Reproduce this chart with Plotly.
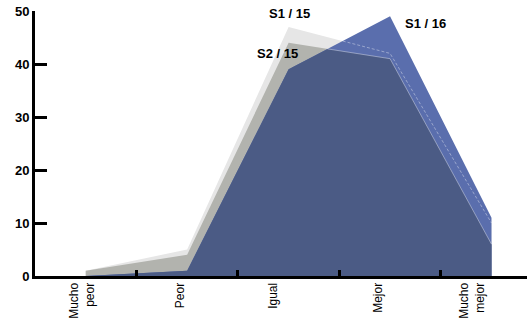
import plotly.graph_objects as go

categories = ["Mucho<br>peor", "Peor", "Igual", "Mejor", "Mucho<br>mejor"]
s1_15 = [1, 5, 47, 42, 10]
s2_15 = [1, 4, 44, 41, 6]
s1_16 = [0, 1, 39, 49, 11]
y_ticks = [0, 10, 20, 30, 40, 50]

x_idx = list(range(len(categories)))


def merge(a, b):
    """Breakpoints of two piecewise-linear series incl. crossing points."""
    xs, ya, yb = [], [], []
    for i in range(len(a)):
        xs.append(float(i)); ya.append(a[i]); yb.append(b[i])
        if i < len(a) - 1:
            d0 = a[i] - b[i]
            d1 = a[i + 1] - b[i + 1]
            if d0 * d1 < 0:
                t = d0 / (d0 - d1)
                xs.append(i + t)
                ya.append(a[i] + t * (a[i + 1] - a[i]))
                yb.append(b[i] + t * (b[i + 1] - b[i]))
    return xs, ya, yb


C_LIGHT = "#e6e6e6"
C_GRAY = "#b2b3ae"
C_BLUE = "#5a6ead"
C_DARK = "#4b5b85"
EDGE = "rgba(255,255,255,0.38)"

fig = go.Figure()
fig.add_trace(go.Scatter(x=x_idx, y=s1_15, mode="none", fill="tozeroy",
                         fillcolor=C_LIGHT, hoverinfo="skip"))
fig.add_trace(go.Scatter(x=x_idx, y=s2_15, mode="none", fill="tozeroy",
                         fillcolor=C_GRAY, hoverinfo="skip"))
fig.add_trace(go.Scatter(x=x_idx, y=s1_16, mode="none", fill="tozeroy",
                         fillcolor=C_BLUE, hoverinfo="skip"))

# overlap of S2/15 and S1/16 (darker)
xs, ya, yb = merge(s2_15, s1_16)
fig.add_trace(go.Scatter(x=xs, y=[min(p, q) for p, q in zip(ya, yb)],
                         mode="none", fill="tozeroy", fillcolor=C_DARK,
                         hoverinfo="skip"))
# S2/15 edge seen through S1/16
fig.add_trace(go.Scatter(x=xs, y=[p if q >= p - 1e-9 else None for p, q in zip(ya, yb)],
                         mode="lines", line=dict(color=EDGE, width=1),
                         connectgaps=False, hoverinfo="skip"))
# S1/15 edge seen through S1/16
xs2, ya2, yb2 = merge(s1_15, s1_16)
fig.add_trace(go.Scatter(x=xs2, y=[p if q >= p - 1e-9 else None for p, q in zip(ya2, yb2)],
                         mode="lines", line=dict(color=EDGE, width=1, dash="3px,2px"),
                         connectgaps=False, hoverinfo="skip"))

label_pos = [-0.035, 0.927, 1.849, 2.885, 3.81]
boundaries = [0.5, 1.5, 2.5, 3.5]

ann_font = dict(family="Liberation Sans, Arial, sans-serif", size=13, color="black")
for txt, ax_, ay_ in [("S1 / 15", 2.01, 49.6), ("S2 / 15", 1.89, 42.0), ("S1 / 16", 3.35, 47.7)]:
    fig.add_annotation(x=ax_, y=ay_, text="<b>" + txt + "</b>", showarrow=False,
                       font=ann_font, xanchor="center", yanchor="middle")

fig.update_layout(
    width=527, height=321,
    margin=dict(l=35, r=0, t=11, b=45, autoexpand=False),
    paper_bgcolor="white", plot_bgcolor="white",
    showlegend=False,
    xaxis=dict(
        range=[-0.5, 4.35], showgrid=False, zeroline=False, automargin=False,
        showline=True, linecolor="black", linewidth=3,
        tickmode="array", tickvals=label_pos, ticktext=categories,
        ticks="", tickangle=-90, ticklabelstandoff=-1,
        tickfont=dict(family="Liberation Sans, Arial, sans-serif",
                      size=12, color="black"),
        minor=dict(tickmode="array", tickvals=boundaries, ticks="inside",
                   ticklen=6, tickwidth=3, tickcolor="black", showgrid=False),
    ),
    yaxis=dict(
        range=[0, 50], showgrid=False, zeroline=False, automargin=False,
        showline=True, linecolor="black", linewidth=3,
        tickmode="array", tickvals=y_ticks,
        ticks="inside", ticklen=12, tickwidth=3, tickcolor="black",
        tickfont=dict(family="Liberation Sans, Arial, sans-serif", size=13, color="black",
                      weight="bold"),
    ),
)

fig.write_html("out.html", config={"displayModeBar": False},
               post_script="document.body.style.margin='0';document.body.style.padding='0';")
